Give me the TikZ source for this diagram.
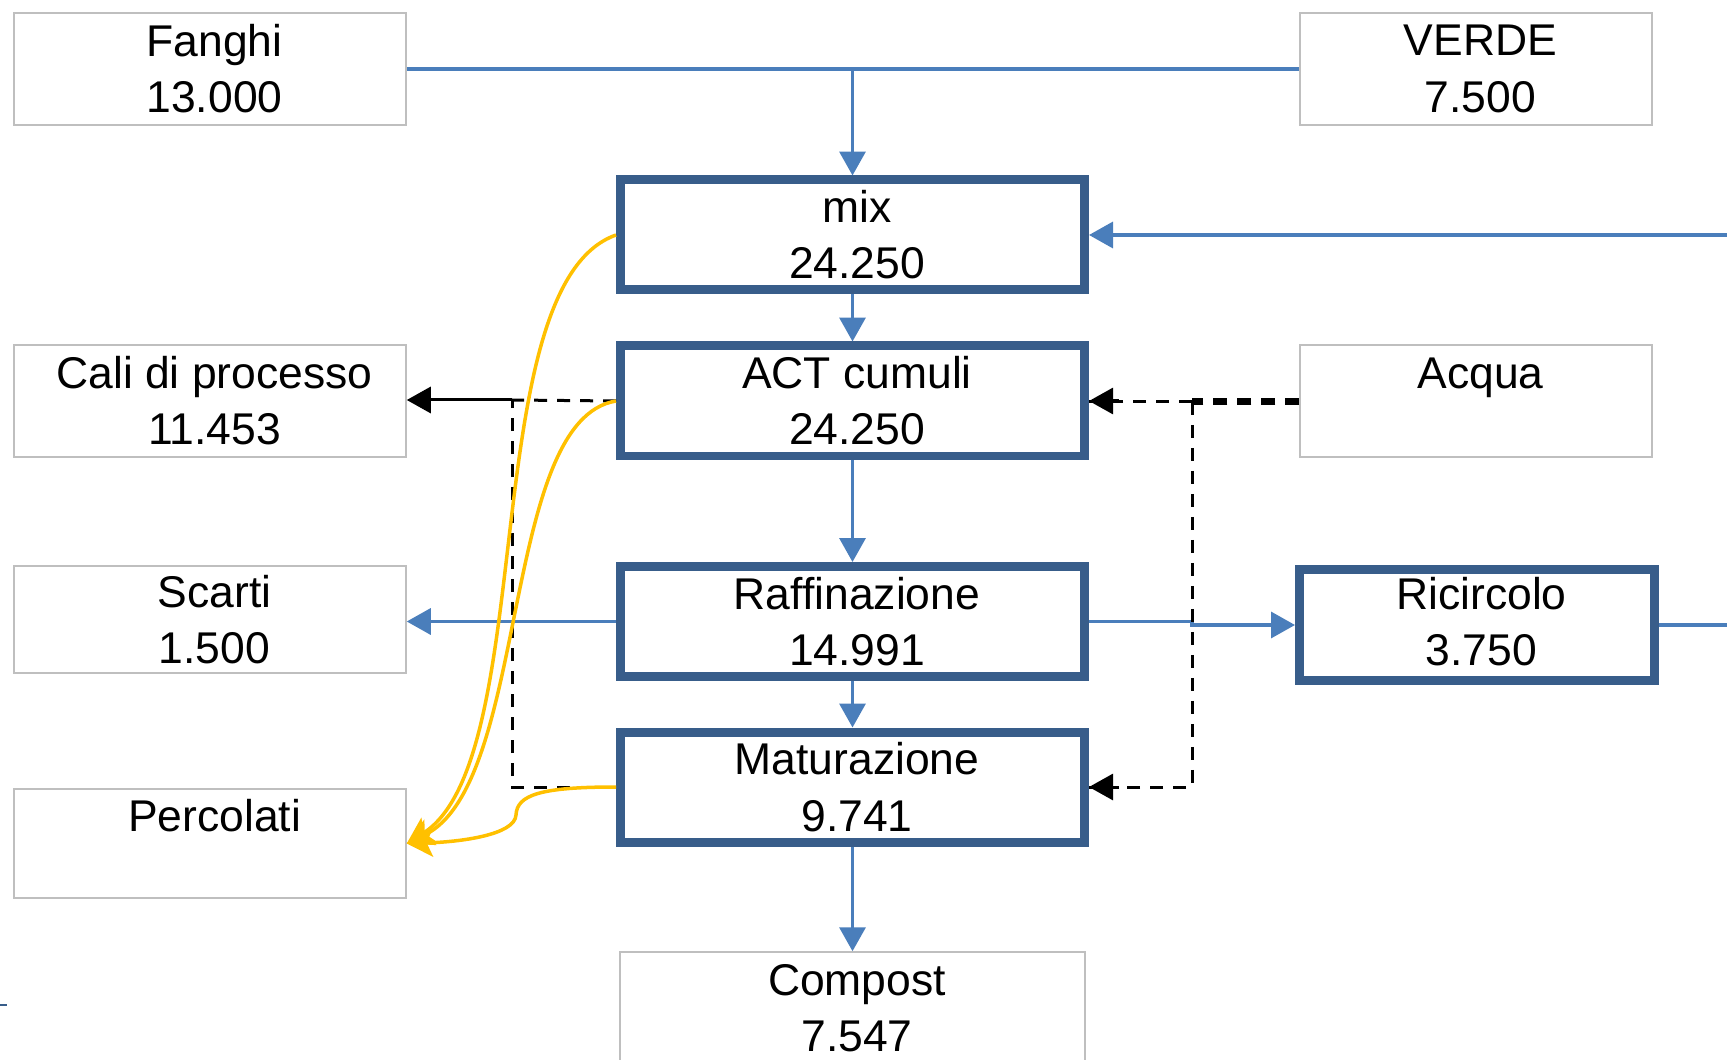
\documentclass[tikz,border=0pt]{standalone}
\usepackage{fontspec}
\setmainfont{Liberation Sans}
\usetikzlibrary{arrows.meta}

\definecolor{flowblue}{HTML}{4A7EBB}
\definecolor{boxblue}{HTML}{385D8A}
\definecolor{boxgray}{HTML}{BFBFBF}
\definecolor{leachorange}{HTML}{FFC000}

% two centred lines, set a little right of the box centre
\newcommand\boxlines[2]{\hspace*{0.18cm}#1\\\hspace*{0.18cm}#2}

\tikzset{
  size/.style 2 args={minimum width=#1*0.02cm, minimum height=#2*0.02cm},
  basebox/.style={inner sep=0pt, align=center, font=\fontsize{25.3pt}{32pt}\selectfont},
  thinbox/.style={basebox, draw=boxgray, line width=0.03cm},
  thickbox/.style={basebox, draw=boxblue, line width=0.18cm},
  tipA/.tip={Triangle[length=0.48cm, width=0.52cm]},
  flow/.style={draw=flowblue, line width=0.068cm, -tipA},
  flowline/.style={draw=flowblue, line width=0.068cm},
  lossdash/.style={draw=black, line width=0.06cm, dash pattern=on 0.26cm off 0.2cm},
  lossthick/.style={draw=black, line width=0.14cm, dash pattern=on 0.28cm off 0.2cm},
  losssolid/.style={draw=black, line width=0.06cm},
  leach/.style={draw=leachorange, line width=0.07cm},
  leachtip/.tip={Stealth[length=0.52cm, width=0.56cm, inset=0.12cm]},
}

\begin{document}
\begin{tikzpicture}[x=0.02cm, y=-0.02cm]
\useasboundingbox (0,0) rectangle (1727,1060);

% inputs
\node[thinbox, size={392}{112}] (fanghi) at (210,69) {\boxlines{Fanghi}{13.000}};
\node[thinbox, size={352}{112}] (verde) at (1476,69) {\boxlines{VERDE}{7.500}};

% process chain
\node[thickbox, size={464}{110}] (mix) at (852.5,235) {\boxlines{mix}{24.250}};
\node[thickbox, size={464}{110}] (act) at (852.5,401) {\boxlines{ACT cumuli}{24.250}};
\node[thickbox, size={464}{110}] (raff) at (852.5,621.5) {\boxlines{Raffinazione}{14.991}};
\node[thickbox, size={464}{110}] (mat) at (852.5,787) {\boxlines{Maturazione}{9.741}};
\node[thinbox, size={465}{112}] (compost) at (852.5,1008) {\boxlines{Compost}{7.547}};

% side boxes
\node[thinbox, size={392}{112}] (cali) at (210,401) {\boxlines{Cali di processo}{11.453}};
\node[thinbox, size={392}{107}] (scarti) at (210,619.5) {\boxlines{Scarti}{1.500}};
\node[thinbox, size={392}{109}] (perc) at (210,843.5) {\boxlines{Percolati}{~}};
\node[thinbox, size={352}{112}] (acqua) at (1476,401) {\boxlines{Acqua}{~}};
\node[thickbox, size={355}{111}] (ric) at (1477,625) {\raisebox{0.14cm}{\hspace*{0.18cm}Ricircolo}\\\raisebox{0.14cm}{\hspace*{0.18cm}3.750}};

% helper points
\coordinate (join) at (852.5,69);
\coordinate (mixin) at (1727,235);
\coordinate (ricout) at (1727,625);
\coordinate (wet) at (1192,402);
\coordinate (lossL) at (512,400);

% main flow
\draw[flowline] (fanghi.east |- join) -- (verde.west |- join);
\draw[flow] (join) -- (mix.north);
\draw[flow] (mixin) -- (mix.east);
\draw[flow] (mix.south) -- (act.north);
\draw[flow] (act.south) -- (raff.north);
\draw[flow] (raff.south) -- (mat.north);
\draw[flow] (mat.south) -- (compost.north);
\draw[flow] (raff.west) -- (scarti.east |- raff.west);
\draw[flow] (raff.east) -- (raff.east -| wet) |- (ric.west);
\draw[flowline] (ric.east) -- (ricout);

% water supply
\draw[lossthick] (acqua.west |- wet) -- (wet);
\draw[lossdash] (wet) -- (act.east |- wet);
\draw[black, line width=0.06cm, -tipA] ([xshift=0.6cm]act.east) -- (act.east);
\draw[lossdash] (wet) |- (mat.east);
\draw[black, line width=0.06cm, -tipA] ([xshift=0.6cm]mat.east) -- (mat.east);

% process losses
\draw[lossdash] (act.west) -- (lossL);
\draw[lossdash] (mat.west) -| (lossL);
\draw[losssolid, -tipA] (lossL) -- (cali.east |- lossL);

% leachate
\draw[leach, -leachtip] (mix.west) .. controls (475,285) and (540,760) .. (perc.east);
\draw[leach, -leachtip] (act.west) .. controls (500,420) and (530,785) .. (perc.east);
\draw[leach, -leachtip] (mat.west) .. controls (540,787) and (517,795) .. (516,815) .. controls (515,835) and (460,842) .. (perc.east);

% stray mark at the lower left edge
\draw[boxblue, line width=0.04cm] (0,1005) -- (7,1005);
\end{tikzpicture}
\end{document}
